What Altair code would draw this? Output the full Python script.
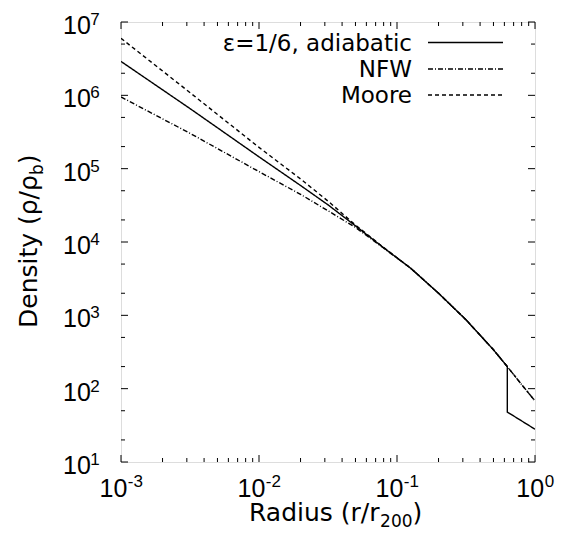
import altair as alt
import pandas as pd

# ---------------- data ----------------
radius = [0.001, 0.0032, 0.01, 0.02, 0.032, 0.05, 0.079, 0.126, 0.2, 0.316, 0.5, 0.63, 0.79, 1.0]
rho_nfw = [9.5e5, 3.0e5, 9.1e4, 4.47e4, 2.63e4, 1.58e4, 8.4e3, 4.37e3, 2.0e3, 871, 339, 200, 117, 68]
rho_moore = [6.0e6, 1.07e6, 1.95e5, 7.24e4, 3.55e4, 1.70e4, 8.6e3, 4.37e3, 2.0e3, 871, 339, 200, 117, 68]
radius_adiab = [0.001, 0.0032, 0.01, 0.02, 0.032, 0.05, 0.079, 0.126, 0.2, 0.316, 0.5, 0.63, 0.63, 1.0]
rho_adiab = [2.9e6, 6.5e5, 1.45e5, 5.9e4, 3.16e4, 1.66e4, 8.5e3, 4.37e3, 2.0e3, 871, 339, 200, 48, 28]

series = ["ε=1/6, adiabatic", "NFW", "Moore"]

x_major = [0.001, 0.01, 0.1, 1.0]
x_exp = ["-3", "-2", "-1", "0"]
x_minor = [m * 10.0 ** e for e in (-3, -2, -1) for m in range(2, 10)]
y_major = [1e1, 1e2, 1e3, 1e4, 1e5, 1e6, 1e7]
y_exp = ["1", "2", "3", "4", "5", "6", "7"]
y_minor = [m * 10.0 ** k for k in range(1, 7) for m in (2, 5)]

# ---------------- layout ----------------
W, H = 414, 440
TICK_FONT = "Liberation Sans"
TITLE_FONT = "DejaVu Sans"

DJ = {" ": .318, "(": .390, ")": .390, "/": .337, ",": .318, "=": .838,
      "a": .613, "b": .635, "c": .550, "d": .635, "e": .615, "i": .278, "n": .634,
      "o": .612, "r": .411, "s": .521, "t": .392, "u": .634, "y": .592,
      "D": .770, "R": .695, "N": .748, "F": .575, "W": .989, "M": .863,
      "ρ": .635, "ε": .541}
for d in "0123456789":
    DJ[d] = .636


def tw(s, size):
    return sum(DJ.get(c, .6) for c in s) * size


rows = []
for i, (r, v) in enumerate(zip(radius_adiab, rho_adiab)):
    rows.append({"r": r, "rho": v, "s": series[0], "o": i})
for i, (r, v) in enumerate(zip(radius, rho_nfw)):
    rows.append({"r": r, "rho": v, "s": series[1], "o": i})
for i, (r, v) in enumerate(zip(radius, rho_moore)):
    rows.append({"r": r, "rho": v, "s": series[2], "o": i})
df = pd.DataFrame(rows)

xs = alt.Scale(type="log", domain=[1e-3, 1], nice=False)
ys = alt.Scale(type="log", domain=[10, 1e7], nice=False)
dashes = [[1, 0], [5, 2, 1, 2], [4, 3]]

lines = alt.Chart(df).mark_line(color="black", strokeWidth=1.4, clip=True).encode(
    x=alt.X("r:Q", scale=xs, axis=None),
    y=alt.Y("rho:Q", scale=ys, axis=None),
    strokeDash=alt.StrokeDash("s:N", scale=alt.Scale(domain=series, range=dashes), legend=None),
    detail="s:N",
    order="o:Q",
)


def xticks(vals, y0, y1):
    return alt.Chart(pd.DataFrame({"v": vals})).mark_rule(color="black", strokeWidth=1).encode(
        x=alt.X("v:Q", scale=xs, axis=None), y=alt.value(y0), y2=alt.value(y1))


def yticks(vals, x0, x1):
    return alt.Chart(pd.DataFrame({"v": vals})).mark_rule(color="black", strokeWidth=1).encode(
        y=alt.Y("v:Q", scale=ys, axis=None), x=alt.value(x0), x2=alt.value(x1))


MAJ, MIN = 7, 4
ticks = [
    xticks(x_major, H, H - MAJ), xticks(x_minor, H, H - MIN),
    xticks(x_major, 0, MAJ), xticks(x_minor, 0, MIN),
    yticks(y_major, 0, MAJ), yticks(y_minor, 0, MIN),
    yticks(y_major, W, W - MAJ), yticks(y_minor, W, W - MIN),
]

# tick labels 10^n
BASE, EXPS = 25, 17
w10 = 1.112 * BASE
xl = pd.DataFrame({"v": x_major, "exp": x_exp})
labels = []
for cond, ewidth in (("datum.exp != '0'", (0.333 + 0.556) * EXPS), ("datum.exp == '0'", 0.556 * EXPS)):
    shift = w10 - (w10 + ewidth) / 2
    labels.append(alt.Chart(xl).transform_filter(cond).mark_text(
        font=TICK_FONT, fontSize=BASE, align="right", baseline="alphabetic", dx=shift, color="black"
    ).encode(x=alt.X("v:Q", scale=xs, axis=None), y=alt.value(H + 35), text=alt.value("10")))
    labels.append(alt.Chart(xl).transform_filter(cond).mark_text(
        font=TICK_FONT, fontSize=EXPS, align="left", baseline="alphabetic", dx=shift + 0.5, color="black"
    ).encode(x=alt.X("v:Q", scale=xs, axis=None), y=alt.value(H + 25), text="exp:N"))

yl = pd.DataFrame({"v": y_major, "exp": y_exp})
labels.append(alt.Chart(yl).mark_text(
    font=TICK_FONT, fontSize=BASE, align="left", baseline="alphabetic", dy=12, color="black"
).encode(y=alt.Y("v:Q", scale=ys, axis=None), x=alt.value(-58), text=alt.value("10")))
labels.append(alt.Chart(yl).mark_text(
    font=TICK_FONT, fontSize=EXPS, align="left", baseline="alphabetic", dy=3, color="black"
).encode(y=alt.Y("v:Q", scale=ys, axis=None), x=alt.value(-58 + w10 - 0.5), text="exp:N"))

# axis titles with sub-scripts
TS, SS = 25, 17
one = pd.DataFrame({"k": [0]})


def txt(s, x, y, size, angle=0, align="left"):
    return alt.Chart(one).mark_text(
        text=s, font=TITLE_FONT, fontSize=size, align=align, baseline="alphabetic",
        angle=angle, color="black").encode(x=alt.value(x), y=alt.value(y))


xt_main, xt_sub, xt_end = "Radius (r/r", "200", ")"
x0 = 128
titles = [
    txt(xt_main, x0, H + 59, TS),
    txt(xt_sub, x0 + tw(xt_main, TS), H + 65, SS),
    txt(xt_end, x0 + tw(xt_main, TS) + tw(xt_sub, SS), H + 59, TS),
]
yt_main, yt_sub, yt_end = "Density (ρ/ρ", "b", ")"
bx, by = -84, 306
titles += [
    txt(yt_main, bx, by, TS, angle=270),
    txt(yt_sub, bx + 6, by - tw(yt_main, TS), SS, angle=270),
    txt(yt_end, bx, by - tw(yt_main, TS) - tw(yt_sub, SS), TS, angle=270),
]

# key (gnuplot style: label then sample)
LF = 23
key_rows = [20.5, 47, 73]
key = []
for name, dash, yy in zip(series, dashes, key_rows):
    key.append(alt.Chart(one).mark_text(
        text=name, font=TITLE_FONT, fontSize=LF, align="right", baseline="alphabetic", color="black"
    ).encode(x=alt.value(291), y=alt.value(yy + 8)))
    key.append(alt.Chart(one).mark_rule(color="black", strokeWidth=1.5, strokeDash=dash).encode(
        x=alt.value(307), x2=alt.value(382), y=alt.value(yy)))

chart = alt.layer(lines, *ticks, *labels, *titles, *key).properties(
    width=W, height=H,
    autosize=alt.AutoSizeParams(type="none"),
    padding={"left": 113, "top": 14, "right": 20, "bottom": 72},
).configure_view(stroke="black", strokeWidth=1.2).configure(background="white")

chart.save("out.html", embed_options={"renderer": "svg", "actions": False})
